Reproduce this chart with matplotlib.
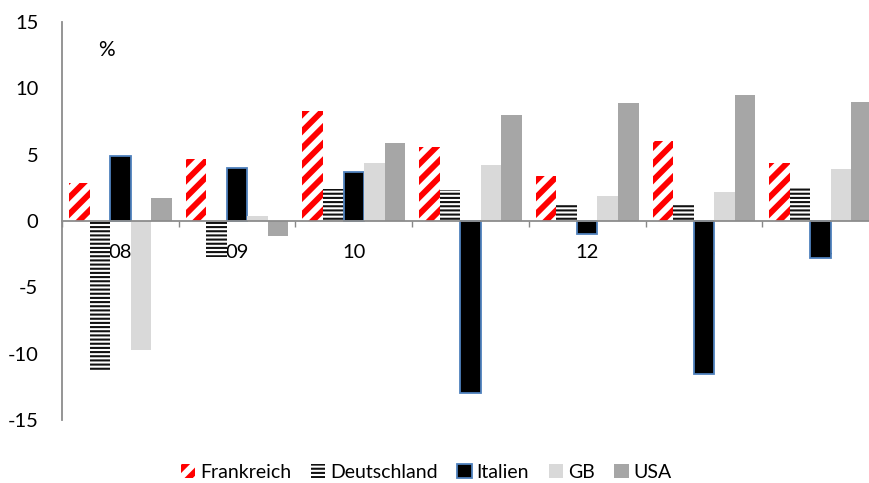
"""
Grouped bars: yearly change in % for five countries, 2008-2014.
Output: out.png
"""
import matplotlib.pyplot as plt
from matplotlib.ticker import FixedLocator, NullFormatter

plt.rcParams["font.family"] = ["Lato", "DejaVu Sans"]

YEARS = ["08", "09", "10", "11", "12", "13", "14"]
COUNTRIES = ["Frankreich", "Deutschland", "Italien", "GB", "USA"]

FRANKREICH = [2.9, 4.7, 8.3, 5.6, 3.4, 6.0, 4.4]
DEUTSCHLAND = [-11.3, -2.7, 2.4, 2.3, 1.3, 1.3, 2.5]
ITALIEN = [4.9, 4.0, 3.7, -13.0, -1.0, -11.5, -2.8]
GB = [-9.7, 0.4, 4.4, 4.2, 1.9, 2.2, 3.9]
USA = [1.7, -1.1, 5.9, 8.0, 8.9, 9.5, 9.0]

SERIES = [FRANKREICH, DEUTSCHLAND, ITALIEN, GB, USA]

STYLES = [
    dict(facecolor="white", edgecolor="#ff0000", hatch="//", linewidth=0, hlw=4.2),
    dict(facecolor="white", edgecolor="#111111", hatch="----", linewidth=0, hlw=1.5),
    dict(facecolor="black", edgecolor="#4f81bd", hatch=None, linewidth=1.3, hlw=None),
    dict(facecolor="#d9d9d9", edgecolor="none", hatch=None, linewidth=0, hlw=None),
    dict(facecolor="#a6a6a6", edgecolor="none", hatch=None, linewidth=0, hlw=None),
]

W = 8.7
H = 4.83


def main():
    fig = plt.figure(figsize=(W, H), dpi=100)
    # the axis runs a little past the right edge of the figure
    ax = fig.add_axes([62 / 870, 1 - 420 / 483, 817 / 870, 398 / 483])

    bw = 0.176
    x = list(range(len(YEARS)))
    handles = []
    for i, (name, vals, st) in enumerate(zip(COUNTRIES, SERIES, STYLES)):
        pos = [k - 0.5 + 0.06 + bw * (i + 0.5) for k in x]
        bars = ax.bar(pos, vals, width=bw, facecolor=st["facecolor"],
                      edgecolor=st["edgecolor"], hatch=st["hatch"],
                      linewidth=st["linewidth"], label=name, zorder=3)
        if st["hlw"] is not None:
            for p in bars:
                p.set_hatch_linewidth(st["hlw"])
        handles.append(bars)

    ax.set_xlim(-0.5, len(YEARS) - 0.5)
    ax.set_ylim(-15, 15)
    ax.set_yticks([-15, -10, -5, 0, 5, 10, 15])
    ax.set_yticklabels(["-15", "-10", "-5", "0", "5", "10", "15"])
    ax.tick_params(axis="y", length=0, pad=17, labelsize=14.5)

    ax.xaxis.set_major_locator(FixedLocator([k - 0.5 for k in range(len(YEARS) + 1)]))
    ax.xaxis.set_major_formatter(NullFormatter())
    ax.tick_params(axis="x", direction="out", length=4.5, width=1, color="#888888")

    for s in ("top", "right"):
        ax.spines[s].set_visible(False)
    ax.spines["bottom"].set_position(("data", 0))
    for s in ("left", "bottom"):
        ax.spines[s].set_color("#8c8c8c")
        ax.spines[s].set_linewidth(1.3)
        ax.spines[s].set_zorder(4)

    # year labels sit just under the zero line, behind the bars
    for k, lab in zip(x, YEARS):
        ax.text(k, -2.35, lab, ha="center", va="center", fontsize=14.5, zorder=1)

    ax.text(-0.123, 12.9, "%", ha="center", va="center", fontsize=15)

    leg = fig.legend(handles=handles, labels=COUNTRIES, loc="center",
                     bbox_to_anchor=(0.49, 1 - 472 / 483), ncol=5, frameon=False,
                     fontsize=14, handlelength=0.75, handleheight=0.75,
                     handletextpad=0.25, columnspacing=1.0)
    for h, st in zip(leg.legend_handles, STYLES):
        if st["hlw"] is not None:
            h.set_hatch_linewidth(st["hlw"])

    fig.savefig("out.png", dpi=100)
    plt.close()


if __name__ == "__main__":
    main()
